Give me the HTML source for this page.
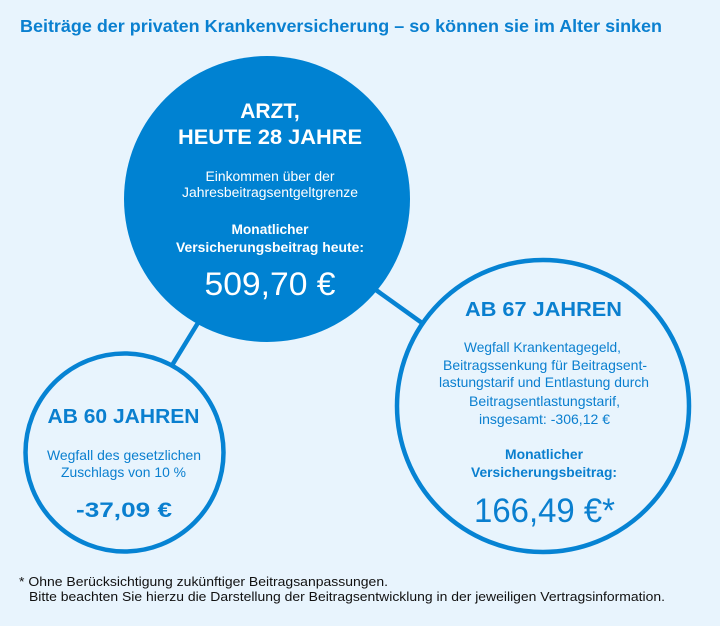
<!DOCTYPE html>
<html><head><meta charset="utf-8"><style>
html,body{margin:0;padding:0;background:#e8f4fd;}
svg{display:block;}
text{font-family:"Liberation Sans",Arial,sans-serif;}
</style></head><body>
<svg width="720" height="626" viewBox="0 0 720 626" xmlns="http://www.w3.org/2000/svg">
<rect width="720" height="626" fill="#e8f4fd"/>
<text x="20" y="32" font-size="17.5" font-weight="bold" fill="#0a80d0" textLength="642" lengthAdjust="spacingAndGlyphs">Beiträge der privaten Krankenversicherung – so können sie im Alter sinken</text>
<!-- connectors -->
<line x1="215" y1="295" x2="160" y2="385" stroke="#0683d3" stroke-width="4.5"/>
<line x1="355" y1="275" x2="450" y2="343" stroke="#0683d3" stroke-width="4.5"/>
<!-- big circle -->
<circle cx="267" cy="199" r="143" fill="#0082d2"/>
<!-- left circle -->
<circle cx="124.5" cy="452.5" r="99" fill="#e8f4fd" stroke="#0683d3" stroke-width="4.5"/>
<!-- right circle -->
<circle cx="543" cy="406" r="146" fill="#e8f4fd" stroke="#0683d3" stroke-width="4.5"/>

<g fill="#ffffff" text-anchor="middle">
<text x="270" y="118" font-size="21" font-weight="bold">ARZT,</text>
<text x="270" y="144" font-size="21" font-weight="bold" textLength="184" lengthAdjust="spacingAndGlyphs">HEUTE 28 JAHRE</text>
<text x="270" y="181" font-size="13.5" textLength="129" lengthAdjust="spacingAndGlyphs">Einkommen über der</text>
<text x="270" y="197" font-size="13.5" textLength="176" lengthAdjust="spacingAndGlyphs">Jahresbeitragsentgeltgrenze</text>
<text x="270" y="234" font-size="13.5" font-weight="bold" textLength="77" lengthAdjust="spacingAndGlyphs">Monatlicher</text>
<text x="270" y="252" font-size="13.5" font-weight="bold" textLength="188" lengthAdjust="spacingAndGlyphs">Versicherungsbeitrag heute:</text>
<text x="270" y="295" font-size="32" textLength="131" lengthAdjust="spacingAndGlyphs">509,70 €</text>
</g>

<g fill="#0a7fcf" text-anchor="middle">
<text x="123.5" y="423" font-size="20" font-weight="bold" textLength="152" lengthAdjust="spacingAndGlyphs">AB 60 JAHREN</text>
<text x="124" y="460" font-size="14" textLength="154" lengthAdjust="spacingAndGlyphs">Wegfall des gesetzlichen</text>
<text x="123.5" y="477" font-size="14" textLength="125" lengthAdjust="spacingAndGlyphs">Zuschlags von 10 %</text>
<text x="124" y="517" font-size="21" font-weight="bold" textLength="96" lengthAdjust="spacingAndGlyphs">-37,09 €</text>

<text x="543.5" y="316" font-size="20" font-weight="bold" textLength="157" lengthAdjust="spacingAndGlyphs">AB 67 JAHREN</text>
<text x="542.5" y="352" font-size="14" textLength="157" lengthAdjust="spacingAndGlyphs">Wegfall Krankentagegeld,</text>
<text x="545" y="370" font-size="14" textLength="204" lengthAdjust="spacingAndGlyphs">Beitragssenkung für Beitragsent-</text>
<text x="544" y="387" font-size="14" textLength="210" lengthAdjust="spacingAndGlyphs">lastungstarif und Entlastung durch</text>
<text x="544.5" y="406" font-size="14" textLength="151" lengthAdjust="spacingAndGlyphs">Beitragsentlastungstarif,</text>
<text x="544.5" y="424" font-size="14" textLength="131" lengthAdjust="spacingAndGlyphs">insgesamt: -306,12 €</text>
<text x="544" y="459" font-size="14" font-weight="bold" textLength="78" lengthAdjust="spacingAndGlyphs">Monatlicher</text>
<text x="544" y="477" font-size="14" font-weight="bold" textLength="146" lengthAdjust="spacingAndGlyphs">Versicherungsbeitrag:</text>
<text x="544.5" y="522" font-size="34" textLength="141" lengthAdjust="spacingAndGlyphs">166,49 €*</text>
</g>

<g fill="#111111">
<text x="19" y="586" font-size="12.5" textLength="369" lengthAdjust="spacingAndGlyphs">* Ohne Berücksichtigung zukünftiger Beitragsanpassungen.</text>
<text x="29" y="601" font-size="12.5" textLength="636" lengthAdjust="spacingAndGlyphs">Bitte beachten Sie hierzu die Darstellung der Beitragsentwicklung in der jeweiligen Vertragsinformation.</text>
</g>
</svg>
</body></html>
